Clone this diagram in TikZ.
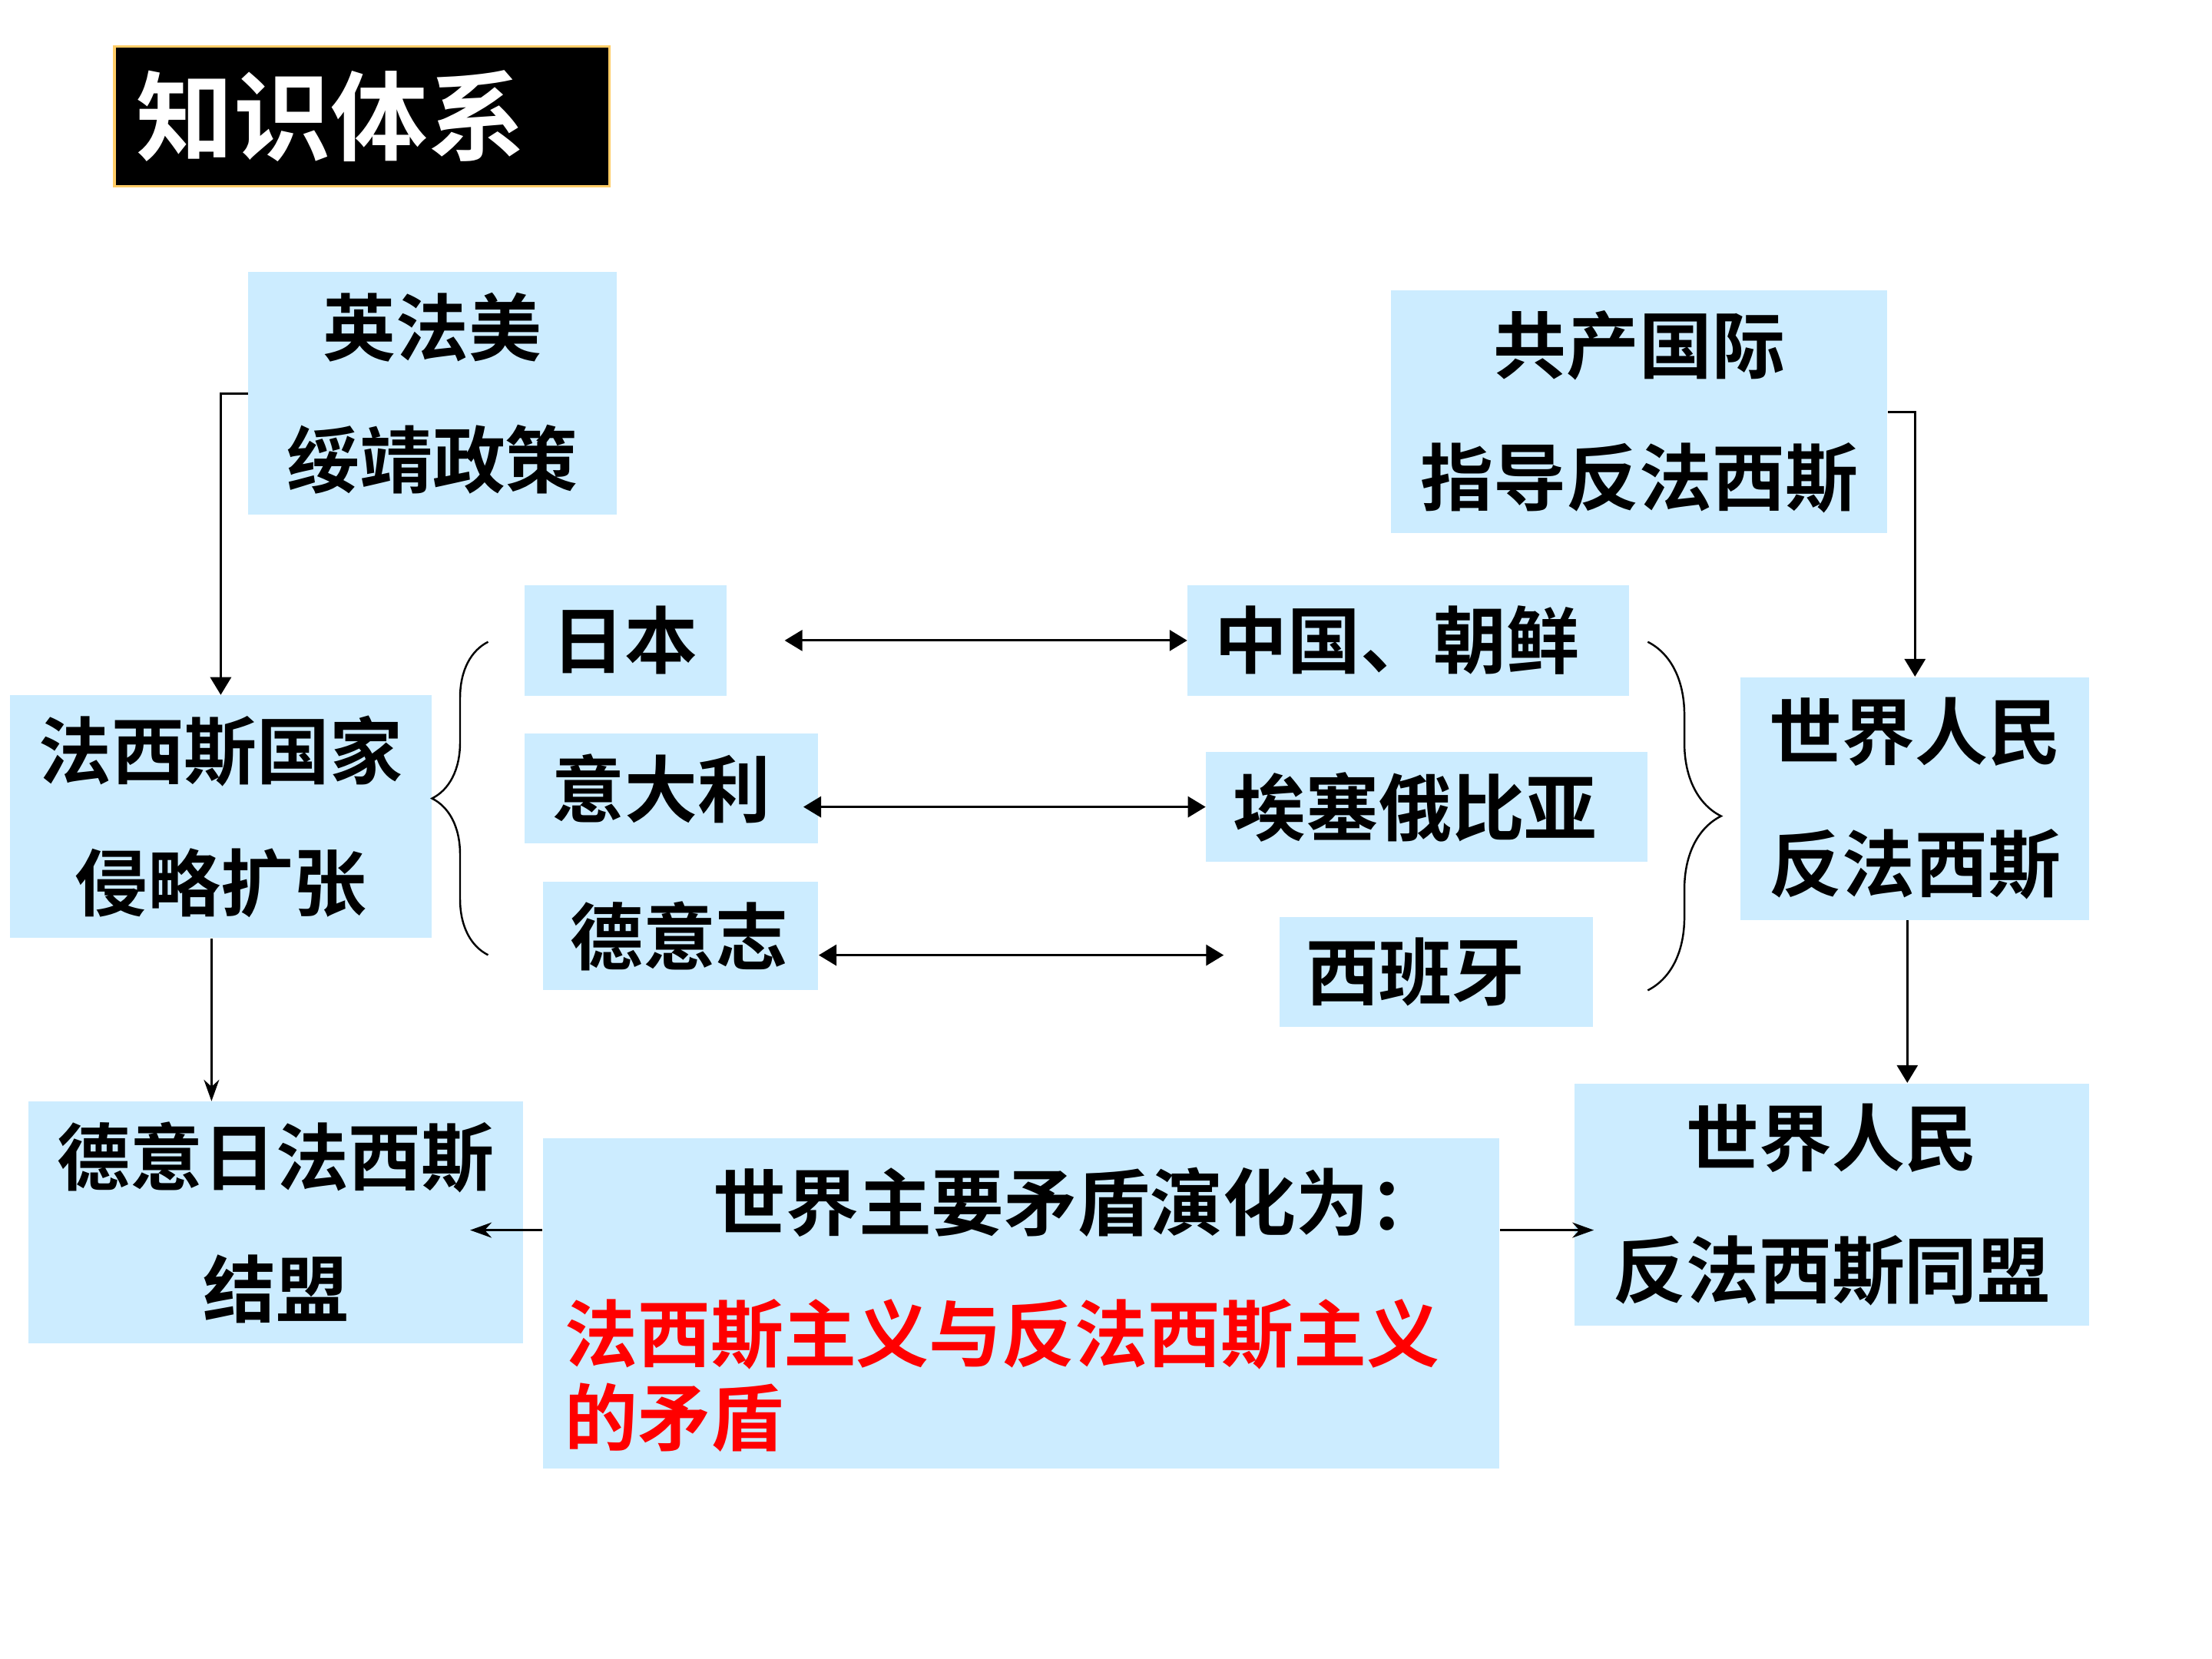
\documentclass[tikz,border=0pt]{standalone}
\usepackage{fontspec}
\newfontfamily\cjk{Noto Sans CJK SC}[BoldFont={Noto Sans CJK SC Bold}]
\usepackage{tikz}
\usetikzlibrary{arrows.meta}
\usetikzlibrary{positioning,decorations.pathreplacing}
\usetikzlibrary{calc}
\definecolor{boxblue}{RGB}{204,236,255}
\definecolor{titleedge}{RGB}{255,204,102}
\tikzset{
    kbox/.style={
        fill=boxblue,
        inner sep=0pt,
        align=center,
        font=\cjk\bfseries\fontsize{27}{49}\selectfont
    },
    rowbox/.style={
        kbox,
        align=left,
        inner xsep=0.35cm,
        minimum height=1.433cm
    },
    link/.style={
        -{Triangle[length=0.23cm, width=0.27cm]},
        line width=0.9pt
    },
    dlink/.style={
        {Triangle[length=0.23cm, width=0.27cm]}-{Triangle[length=0.23cm, width=0.27cm]},
        line width=0.9pt
    },
    thinlink/.style={
        -{Stealth[length=0.28cm, width=0.2cm]},
        line width=0.7pt
    },
    bracket/.style={
        decorate,
        decoration={brace, amplitude=#1},
        line width=0.7pt
    }
}

\begin{document}
\begin{tikzpicture}[scale=1.0]
  \useasboundingbox (0,0) rectangle (28.8,-21.6);

  % Title
  \node[fill=black, draw=titleedge, line width=1pt, minimum height=1.818cm,
        text width=5.867cm, inner xsep=0.29cm, align=left, text=white,
        font=\cjk\bfseries\fontsize{36}{40}\selectfont] (title) at (4.711,-1.515) {\raisebox{-0.1cm}{知识体系}};

  % Causes
  \node[kbox, minimum width=4.794cm, minimum height=3.159cm] (ying) at (5.630,-5.124) {英法美\\绥靖政策};
  \node[kbox, minimum width=6.465cm, minimum height=3.159cm] (gong) at (21.342,-5.363) {共产国际\\指导反法西斯};

  % Aggressors and victims
  \node[rowbox, text width=1.926cm] (riben) at (8.146,-8.339) {日本};
  \node[rowbox, text width=3.120cm] (yidali) at (8.743,-10.267) {意大利};
  \node[rowbox, text width=2.882cm, minimum height=1.414cm] (deyizhi) at (8.862,-12.186) {德意志};
  \node[rowbox, text width=5.049cm] (zhongguo) at (18.339,-8.339) {中国、朝鲜};
  \node[rowbox, text width=5.049cm] (aisai) at (18.578,-10.506) {埃塞俄比亚};
  \node[rowbox, text width=3.377cm] (xibanya) at (18.698,-12.655) {西班牙};

  % Two sides
  \node[kbox, minimum width=5.492cm, minimum height=3.159cm] (faxisi) at (2.874,-10.634) {法西斯国家\\侵略扩张};
  \node[kbox, minimum width=4.537cm, minimum height=3.159cm] (renmin) at (24.933,-10.396) {世界人民\\反法西斯};

  % Results
  \node[kbox, minimum width=6.447cm, minimum height=3.141cm] (jiemeng) at (3.591,-15.915) {德意日法西斯\\结盟};
  \node[kbox, minimum width=6.704cm, minimum height=3.159cm] (tongmeng) at (23.850,-15.685) {世界人民\\反法西斯同盟};
  \node[kbox, minimum width=12.453cm, minimum height=4.298cm] (maodun) at (13.298,-16.971) {};
  \node[kbox, fill=none, anchor=west] (mdhead) at (9.275,-15.649) {世界主要矛盾演化为：};
  \node[kbox, fill=none, anchor=west, align=left, text=red,
        font=\cjk\bfseries\fontsize{27}{31}\selectfont] (mdbody) at (7.347,-17.908)
        {法西斯主义与反法西斯主义\\的矛盾};

  % Braces
  \draw[bracket=0.73cm] (6.355,-12.434) -- (6.355,-8.357);
  \draw[bracket=0.955cm] (21.453,-8.357) -- (21.453,-12.894);

  % Arrows
  \draw[link] (ying.west) -| (faxisi.north);
  \draw[link] (gong.east) -| (renmin.north);
  \draw[link] ($(renmin.south)+(-0.1,0)$) -- ($(renmin.south |- tongmeng.north)+(-0.1,0)$);
  \draw[thinlink] ($(faxisi.south)+(-0.12,0)$) -- ($(faxisi.south |- jiemeng.north)+(-0.12,0)$);

  \draw[dlink] ($(riben.east)+(0.75,0)$) -- (zhongguo.west);
  \draw[dlink] ($(yidali.east |- aisai.west)+(-0.2,0)$) -- (aisai.west);
  \draw[dlink] ($(deyizhi.east)+(0,-0.25)$) -- ($(deyizhi.east -| xibanya.west)+(-0.72,-0.25)$);

  \draw[thinlink] ($(maodun.west)+(0,0.955)$) -- ($(jiemeng.east |- maodun.west)+(-0.7,0.955)$);
  \draw[thinlink] ($(maodun.east)+(0,0.955)$) -- ($(tongmeng.west |- maodun.east)+(0.26,0.955)$);
\end{tikzpicture}
\end{document}
